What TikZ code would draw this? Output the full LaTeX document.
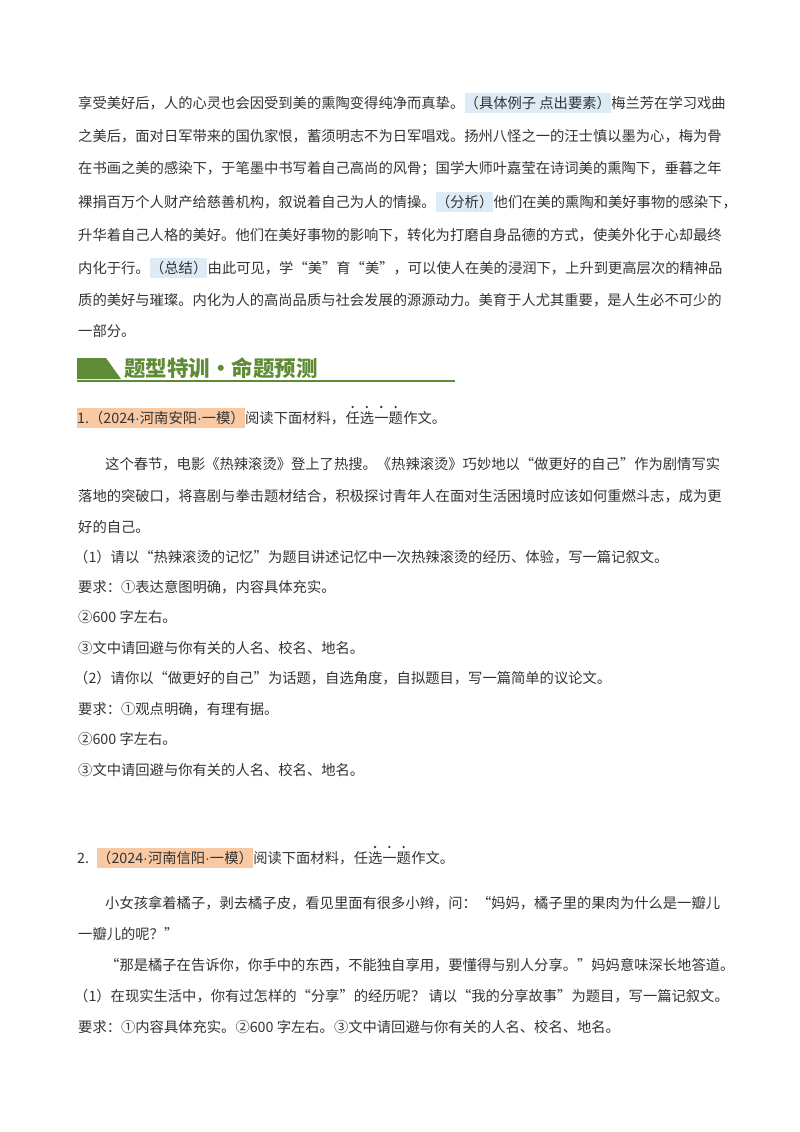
\documentclass[tikz,border=0pt]{standalone}
\usepackage{fontspec}
\setmainfont{Noto Sans CJK SC}
\newfontfamily\latinf{Liberation Sans}
\newcommand{\md}{{\latinf\fontsize{14.3}{16}\selectfont ·}}
\definecolor{txt}{HTML}{333333}
\definecolor{hlblue}{HTML}{DCEBF5}
\definecolor{hlorange}{HTML}{F9C9A4}
\definecolor{bgreen}{HTML}{5E8B35}
\begin{document}
\begin{tikzpicture}[x=1pt,y=-1pt,
  t/.style={anchor=west,inner sep=0pt,text=txt,font=\fontsize{14.3}{16}\selectfont},
  hb/.style={t,fill=hlblue,inner ysep=3pt},
  ho/.style={t,fill=hlorange,inner ysep=3pt},
  edot/.style={fill=txt,circle,inner sep=0.9pt}]
\useasboundingbox (0,0) rectangle (800,1132);
% top paragraph
\node[t] (a1) at (78,103) {享受美好后，人的心灵也会因受到美的熏陶变得纯净而真挚。};
\node[hb,anchor=west] (a1b) at (a1.east) {（具体例子 点出要素）};
\node[t,anchor=west] (a1c) at (a1b.east) {梅兰芳在学习戏曲};
\node[t] (a2) at (78,136) {之美后，面对日军带来的国仇家恨，蓄须明志不为日军唱戏。扬州八怪之一的汪士慎以墨为心，梅为骨};
\node[t] (a3) at (78,169) {在书画之美的感染下，于笔墨中书写着自己高尚的风骨；国学大师叶嘉莹在诗词美的熏陶下，垂暮之年};
\node[t] (a4) at (78,202) {裸捐百万个人财产给慈善机构，叙说着自己为人的情操。};
\node[hb,anchor=west] (a4b) at (a4.east) {（分析）};
\node[t,anchor=west] (a4c) at (a4b.east) {他们在美的熏陶和美好事物的感染下，};
\node[t] (a5) at (78,235) {升华着自己人格的美好。他们在美好事物的影响下，转化为打磨自身品德的方式，使美外化于心却最终};
\node[t] (a6) at (78,268) {内化于行。};
\node[hb,anchor=west] (a6b) at (a6.east) {（总结）};
\node[t,anchor=west] (a6c) at (a6b.east) {由此可见，学“美”育“美”，可以使人在美的浸润下，上升到更高层次的精神品};
\node[t] (a7) at (78,300) {质的美好与璀璨。内化为人的高尚品质与社会发展的源源动力。美育于人尤其重要，是人生必不可少的};
\node[t] (a8) at (78,331) {一部分。};
% banner
\fill[bgreen] (77,358) -- (106,358) -- (121,379) -- (77,379) -- cycle;
\node[anchor=west,inner sep=0pt,text=bgreen,font=\fontsize{21.5}{23}\bfseries\selectfont] (ban) at (124,368) {题型特训·命题预测};
\draw[bgreen,line width=1.2pt] (77,381) -- (455,381);
% Q1
\node[ho] (q1a) at (77,418) {1.（2024\md 河南安阳\md 一模）};
\node[t,anchor=west] (q1b) at (q1a.east) {阅读下面材料，};
\node[t,anchor=west] (q1c) at (q1b.east) {任选一题};
\node[t,anchor=west] (q1d) at (q1c.east) {作文。};
\foreach \i in {0,1,2,3} \node[edot] at ([xshift={(\i+0.5)*14.3pt},yshift=11pt]q1c.west) {};
\node[t] (b1) at (105,464) {这个春节，电影《热辣滚烫》登上了热搜。《热辣滚烫》巧妙地以“做更好的自己”作为剧情写实};
\node[t] (b2) at (78,496) {落地的突破口，将喜剧与拳击题材结合，积极探讨青年人在面对生活困境时应该如何重燃斗志，成为更};
\node[t] (b3) at (78,527) {好的自己。};
\node[t] (b4) at (74,557) {（1）请以“热辣滚烫的记忆”为题目讲述记忆中一次热辣滚烫的经历、体验，写一篇记叙文。};
\node[t] (b5) at (78,587) {要求：①表达意图明确，内容具体充实。};
\node[t] (b6) at (78,617) {②600 字左右。};
\node[t] (b7) at (78,648) {③文中请回避与你有关的人名、校名、地名。};
\node[t] (b8) at (74,678) {（2）请你以“做更好的自己”为话题，自选角度，自拟题目，写一篇简单的议论文。};
\node[t] (b9) at (78,709) {要求：①观点明确，有理有据。};
\node[t] (b10) at (78,739) {②600 字左右。};
\node[t] (b11) at (78,770) {③文中请回避与你有关的人名、校名、地名。};
% Q2
\node[t] (q2n) at (77,858) {2.};
\node[ho] (q2a) at (97,858) {（2024\md 河南信阳\md 一模）};
\node[t,anchor=west] (q2b) at (q2a.east) {阅读下面材料，};
\node[t,anchor=west] (q2c) at (q2b.east) {任选一题};
\node[t,anchor=west] (q2d) at (q2c.east) {作文。};
\foreach \i in {1,2,3} \node[edot] at ([xshift={(\i+0.5)*14.3pt},yshift=11pt]q2c.west) {};
\node[t] (c1) at (105,903) {小女孩拿着橘子，剥去橘子皮，看见里面有很多小辫，问：“妈妈，橘子里的果肉为什么是一瓣儿};
\node[t] (c2) at (78,934) {一瓣儿的呢？”};
\node[t] (c3) at (105,965) {“那是橘子在告诉你，你手中的东西，不能独自享用，要懂得与别人分享。"妈妈意味深长地答道。};
\node[t] (c4) at (74,996) {（1）在现实生活中，你有过怎样的“分享”的经历呢？ 请以“我的分享故事”为题目，写一篇记叙文。};
\node[t] (c5) at (78,1027) {要求：①内容具体充实。②600 字左右。③文中请回避与你有关的人名、校名、地名。};
\end{tikzpicture}
\end{document}
